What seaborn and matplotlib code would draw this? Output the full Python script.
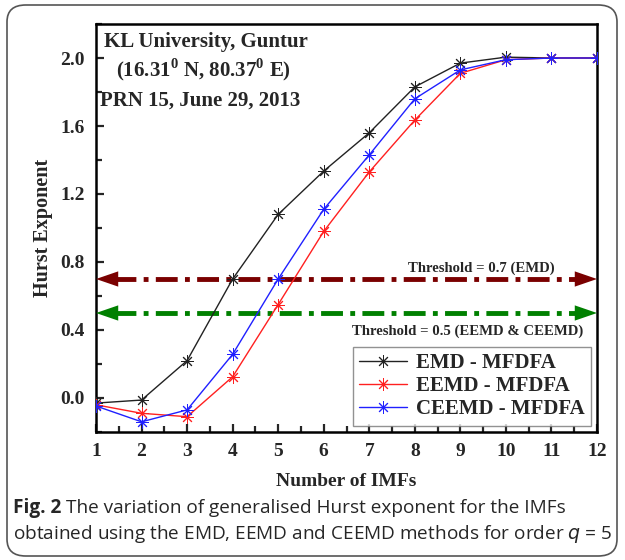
import numpy as np
import pandas as pd
import matplotlib
matplotlib.use("Agg")
import matplotlib.pyplot as plt
from matplotlib.patches import FancyBboxPatch
from matplotlib.ticker import MultipleLocator
import seaborn as sns

# data
imfs = [1, 2, 3, 4, 5, 6, 7, 8, 9, 10, 11, 12]
emd = [-0.03, -0.012, 0.22, 0.70, 1.08, 1.335, 1.56, 1.83, 1.97, 2.005, 2.0, 2.0]
eemd = [-0.04, -0.09, -0.11, 0.125, 0.55, 0.98, 1.33, 1.635, 1.91, 1.99, 2.0, 2.0]
ceemd = [-0.047, -0.14, -0.07, 0.257, 0.70, 1.11, 1.43, 1.76, 1.93, 1.99, 2.0, 2.0]
series_names = ["EMD - MFDFA", "EEMD - MFDFA", "CEEMD - MFDFA"]
series_colors = ["#222222", "#ff2020", "#2020ff"]
thresholds = [0.7, 0.5]
threshold_labels = ["Threshold = 0.7 (EMD)", "Threshold = 0.5 (EEMD & CEEMD)"]
threshold_colors = ["#7a0000", "#008000"]

sns.set_style("white")
plt.rcParams["font.family"] = ["Liberation Serif", "DejaVu Serif"]
plt.rcParams["mathtext.fontset"] = "custom"
plt.rcParams["mathtext.rm"] = "Liberation Serif"
plt.rcParams["mathtext.bf"] = "Liberation Serif:bold"

fig = plt.figure(figsize=(6.25, 5.6), dpi=100)
ax = fig.add_axes([96 / 625, 1 - 432 / 560, (597 - 96) / 625, (432 - 24) / 560])

# outer rounded caption box
box = FancyBboxPatch((7 / 625, 4 / 560), 610 / 625, 551 / 560,
                     boxstyle="round,pad=0,rounding_size=0.03",
                     transform=fig.transFigure, fill=False,
                     edgecolor="#555555", lw=1.2, zorder=-5)
fig.patches.append(box)

for vals, name, col in zip([emd, eemd, ceemd], series_names, series_colors):
    sns.lineplot(x=imfs, y=vals, ax=ax, color=col, lw=1.0, label=name,
                 marker=(8, 2, 0), markersize=9, mec=col, mew=0.7, zorder=3)

# threshold lines with arrow heads
for th, col in zip(thresholds, threshold_colors):
    ax.plot([1.4, 11.6], [th, th], color=col, lw=3.5,
            dashes=[4.5, 1.5, 1, 1.5], zorder=2)
    for x0, x1 in [(1.5, 1.0), (11.5, 12.0)]:
        ax.annotate("", xy=(x1, th), xytext=(x0, th),
                    arrowprops=dict(arrowstyle="-|>,head_length=1.6,head_width=0.55",
                                    color=col, lw=0, shrinkA=0, shrinkB=0))

ax.text(9.47, 0.765, threshold_labels[0], ha="center", va="center",
        fontsize=10.6, fontweight="bold")
ax.text(9.17, 0.394, threshold_labels[1], ha="center", va="center",
        fontsize=10.6, fontweight="bold")

ax.text(0.22, 0.955, "KL University, Guntur", transform=ax.transAxes,
        ha="center", va="center", fontsize=15, fontweight="bold")
ax.text(0.215, 0.888, r"(16.31$^\mathbf{0}$ N, 80.37$^\mathbf{0}$ E)",
        transform=ax.transAxes, ha="center", va="center", fontsize=15,
        fontweight="bold")
ax.text(0.007, 0.813, "PRN 15, June 29, 2013", transform=ax.transAxes,
        ha="left", va="center", fontsize=15, fontweight="bold")

ax.set_xlim(1, 12)
ax.set_ylim(-0.2, 2.2)
ax.set_xticks(imfs)
ax.set_yticks([0.0, 0.4, 0.8, 1.2, 1.6, 2.0])
ax.xaxis.set_minor_locator(MultipleLocator(0.5))
ax.yaxis.set_minor_locator(MultipleLocator(0.2))
ax.tick_params(which="both", direction="in", left=True, bottom=True,
               top=False, right=False, width=1.6)
ax.tick_params(which="major", length=6, labelsize=14, pad=8)
ax.tick_params(which="minor", length=4)
for lab in ax.get_xticklabels() + ax.get_yticklabels():
    lab.set_fontweight("bold")
for sp in ax.spines.values():
    sp.set_linewidth(1.8)
    sp.set_color("black")

ax.set_xlabel("Number of IMFs", fontsize=14, fontweight="bold", labelpad=9)
ax.set_ylabel("Hurst Exponent", fontsize=14.5, fontweight="bold", labelpad=5)

leg = ax.legend(loc="lower right", prop={"weight": "bold", "size": 15},
                frameon=True, fancybox=False, edgecolor="#777777",
                handlelength=2.3, borderaxespad=0.3, labelspacing=0.15,
                handletextpad=0.4, borderpad=0.3)
leg.get_frame().set_linewidth(1.0)

# caption
cap_font = ["Open Sans", "DejaVu Sans"]
t1 = fig.text(13 / 625, 1 - 508 / 560, "Fig. 2", family=cap_font,
              fontsize=13.7, fontweight="bold", va="center", ha="left")
fig.canvas.draw()
bb = t1.get_window_extent()
fig.text(bb.x1 / 625 + 0.008, 1 - 508 / 560,
         "The variation of generalised Hurst exponent for the IMFs",
         family=cap_font, fontsize=13.7, va="center", ha="left")
fig.text(13 / 625, 1 - 534 / 560,
         "obtained using the EMD, EEMD and CEEMD methods for order $q$ = 5",
         family=cap_font, fontsize=13.7, va="center", ha="left",
         math_fontfamily="dejavusans")

fig.savefig("out.png", dpi=100)
